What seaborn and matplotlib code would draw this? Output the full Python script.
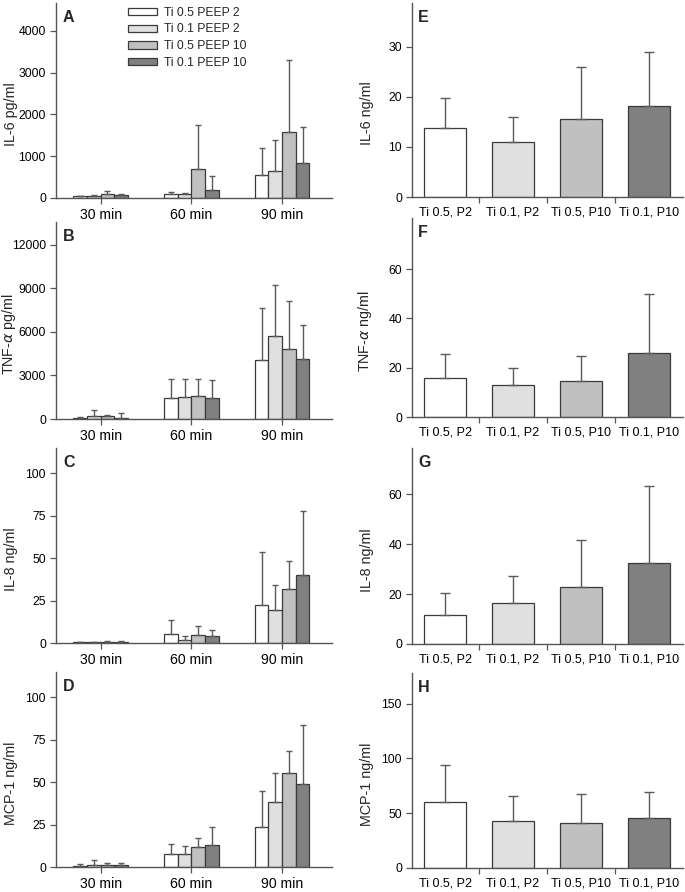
import matplotlib
matplotlib.use("Agg")
import matplotlib.pyplot as plt
from matplotlib.container import BarContainer
import seaborn as sns
import pandas as pd
import numpy as np

sns.set_style("ticks")
plt.rcParams['font.family'] = ['Liberation Sans', 'DejaVu Sans']
plt.rcParams['mathtext.fontset'] = 'dejavusans'

# ---------------- data ----------------
times = ["30 min", "60 min", "90 min"]
groups = ["Ti 0.5 PEEP 2", "Ti 0.1 PEEP 2", "Ti 0.5 PEEP 10", "Ti 0.1 PEEP 10"]
groups_short = ["Ti 0.5, P2", "Ti 0.1, P2", "Ti 0.5, P10", "Ti 0.1, P10"]
colors = ["#ffffff", "#e0e0e0", "#c0c0c0", "#808080"]

# left panels: rows = time, cols = group ; mean and mean+SD (top of error bar)
il6_pg_mean = [[45, 50, 100, 80], [88, 88, 704, 192], [544, 656, 1592, 848]]
il6_pg_top = [[55, 80, 170, 100], [145, 128, 1760, 528], [1208, 1400, 3304, 1704]]
tnf_pg_mean = [[70, 208, 185, 92], [1477, 1500, 1592, 1477], [4062, 5747, 4847, 4154]]
tnf_pg_top = [[160, 623, 254, 415], [2746, 2746, 2746, 2677], [7640, 9209, 8101, 6462]]
il8_left_mean = [[0.5, 0.5, 0.6, 0.6], [5.3, 1.8, 4.7, 4.3], [22.5, 19.6, 32.0, 40.0]]
il8_left_top = [[0.8, 0.8, 0.9, 0.9], [13.7, 3.9, 9.8, 7.6], [53.5, 34.3, 48.2, 78.0]]
mcp_left_mean = [[0.8, 1.2, 1.2, 1.2], [7.7, 7.7, 11.6, 13.0], [23.6, 38.3, 55.4, 48.9]]
mcp_left_top = [[2.0, 3.9, 2.4, 2.6], [13.4, 12.6, 16.9, 23.4], [44.8, 55.4, 68.2, 83.5]]

# right panels: per group
il6_ng_mean = [13.8, 10.9, 15.5, 18.2]
il6_ng_top = [19.8, 15.9, 26.0, 28.9]
tnf_ng_mean = [15.7, 13.1, 14.7, 26.1]
tnf_ng_top = [25.5, 19.7, 24.9, 50.1]
il8_ng_mean = [11.5, 16.3, 22.9, 32.4]
il8_ng_top = [20.4, 27.1, 41.6, 63.3]
mcp_ng_mean = [60.0, 43.3, 41.5, 45.7]
mcp_ng_top = [94.2, 65.5, 67.4, 69.2]

W, H = 685, 892
fig = plt.figure(figsize=(W / 100, H / 100), dpi=100)


def ax_px(l, t, r, b):
    return fig.add_axes([l / W, 1 - b / H, (r - l) / W, (b - t) / H])


EDGE = "#3a3a3a"
ERR = "#5a5a5a"
SPINE = "#555555"
TICKFS = 8.8
YLABFS = 10.3


def bar_containers(ax):
    return [c for c in list(ax.containers) if isinstance(c, BarContainer)]


def style(ax):
    sns.despine(ax=ax)
    for s in ("left", "bottom"):
        ax.spines[s].set_color(SPINE)
        ax.spines[s].set_linewidth(1.0)
    ax.tick_params(axis="both", colors=SPINE, labelcolor="black", labelsize=TICKFS,
                   length=4, width=0.9)
    ax.tick_params(axis="y", pad=3)
    ax.set_xlabel("")


def left_panel(rect, mean, top, ylim, yticks, ylabel, letter, legend=False, errcap=2.5):
    ax = ax_px(*rect)
    rows = []
    for ti, t in enumerate(times):
        for gi, g in enumerate(groups):
            rows.append({"time": t, "group": g, "value": mean[ti][gi]})
    df = pd.DataFrame(rows)
    sns.barplot(data=df, x="time", y="value", hue="group", order=times, hue_order=groups,
                palette=colors, width=0.6, errorbar=None, edgecolor=EDGE, linewidth=0.9,
                saturation=1, ax=ax, legend=legend)
    for gi, cont in enumerate(bar_containers(ax)):
        for ti, bar in enumerate(cont.patches):
            xc = bar.get_x() + bar.get_width() / 2
            h = bar.get_height()
            ax.errorbar([xc], [h], yerr=[[0], [top[ti][gi] - h]], fmt="none",
                        ecolor=ERR, elinewidth=1.0, capsize=errcap, capthick=1.0, zorder=1)
    ax.set_xlim(-0.495, 2.55)
    ax.set_ylim(*ylim)
    ax.set_yticks(yticks)
    style(ax)
    ax.tick_params(axis="x", labelsize=10.2, pad=3)
    ax.set_ylabel(ylabel, fontsize=YLABFS)
    ax.yaxis.set_label_coords(-0.138, 0.43)
    ax.text(0.026, 0.965, letter, transform=ax.transAxes, fontsize=11.5,
            fontweight="bold", va="top", ha="left")
    if legend:
        leg = ax.legend(loc="upper left", bbox_to_anchor=(0.23, 1.025), frameon=False,
                        fontsize=8.7, handlelength=2.4, handleheight=0.55,
                        labelspacing=0.4, handletextpad=0.6, borderpad=0.2)
        for p in leg.get_patches():
            p.set_edgecolor(EDGE)
    return ax


def right_panel(rect, mean, top, ylim, yticks, ylabel, letter):
    ax = ax_px(*rect)
    df = pd.DataFrame({"group": groups_short, "value": mean})
    sns.barplot(data=df, x="group", y="value", hue="group", order=groups_short,
                hue_order=groups_short, palette=colors, width=0.61, errorbar=None,
                edgecolor=EDGE, linewidth=0.9, saturation=1, legend=False, ax=ax)
    for gi, cont in enumerate(bar_containers(ax)):
        for bar in cont.patches:
            h = bar.get_height()
            if not np.isfinite(h) or h <= 0:
                continue
            xc = bar.get_x() + bar.get_width() / 2
            ax.errorbar([xc], [h], yerr=[[0], [top[gi] - h]], fmt="none", ecolor=ERR,
                        elinewidth=1.0, capsize=3.6, capthick=1.0, zorder=1)
    ax.set_xlim(-0.49, 3.5)
    ax.set_ylim(*ylim)
    ax.set_yticks(yticks)
    style(ax)
    ax.tick_params(axis="x", length=0, labelsize=9.0, pad=7)
    ax.set_xticks([0.5, 1.5, 2.5], minor=True)
    ax.tick_params(axis="x", which="minor", length=4, width=0.9, colors=SPINE)
    ax.set_ylabel(ylabel, fontsize=YLABFS)
    ax.yaxis.set_label_coords(-0.139, 0.43)
    ax.text(0.023, 0.965, letter, transform=ax.transAxes, fontsize=11.5,
            fontweight="bold", va="top", ha="left")
    return ax


LX = (55.7, 332)
RX = (411.7, 683)

left_panel((LX[0], 3, LX[1], 198), il6_pg_mean, il6_pg_top, (0, 4670),
           [0, 1000, 2000, 3000, 4000], "IL-6 pg/ml", "A", legend=True)
left_panel((LX[0], 222, LX[1], 419), tnf_pg_mean, tnf_pg_top, (0, 13570),
           [0, 3000, 6000, 9000, 12000], r"TNF-$\alpha$ pg/ml", "B")
left_panel((LX[0], 448, LX[1], 643), il8_left_mean, il8_left_top, (0, 115),
           [0, 25, 50, 75, 100], "IL-8 ng/ml", "C")
left_panel((LX[0], 672, LX[1], 867), mcp_left_mean, mcp_left_top, (0, 115),
           [0, 25, 50, 75, 100], "MCP-1 ng/ml", "D")

right_panel((RX[0], 3, RX[1], 197), il6_ng_mean, il6_ng_top, (0, 38.7),
            [0, 10, 20, 30], "IL-6 ng/ml", "E")
right_panel((RX[0], 218, RX[1], 417), tnf_ng_mean, tnf_ng_top, (0, 80.8),
            [0, 20, 40, 60], r"TNF-$\alpha$ ng/ml", "F")
right_panel((RX[0], 448, RX[1], 644), il8_ng_mean, il8_ng_top, (0, 78.5),
            [0, 20, 40, 60], "IL-8 ng/ml", "G")
right_panel((RX[0], 673, RX[1], 868), mcp_ng_mean, mcp_ng_top, (0, 178),
            [0, 50, 100, 150], "MCP-1 ng/ml", "H")

fig.savefig("out.png", dpi=100, facecolor="white")
